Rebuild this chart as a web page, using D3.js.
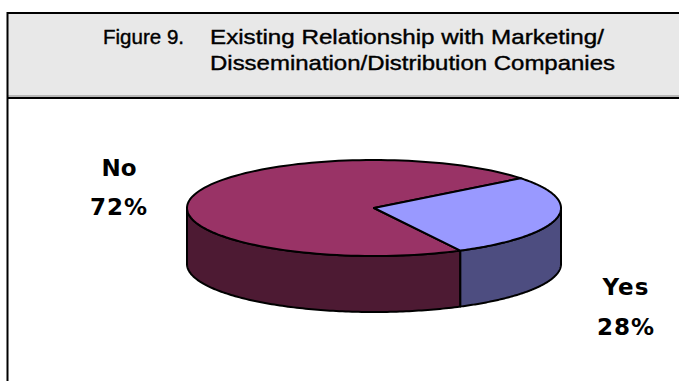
<!DOCTYPE html>
<html><head><meta charset="utf-8">
<script src="https://cdn.jsdelivr.net/npm/d3@7"></script>
<style>html,body{margin:0;padding:0;background:#fff;}svg{display:block;}</style>
</head><body>
<svg id="c" width="679" height="381"></svg>
<script>
const categories = ["No", "Yes"];
const values = [72, 28];
const valueLabels = ["72%", "28%"];
const topColors = ["#993366", "#9999ff"];
const sideColors = ["#4d1a33", "#4d4d80"];
const titleLine1a = "Figure 9.";
const titleLine1b = "Existing Relationship with Marketing/";
const titleLine2 = "Dissemination/Distribution Companies";

const svg = d3.select("#c");

// title box
svg.append("rect").attr("x", 8).attr("y", 13).attr("width", 700).attr("height", 84)
  .attr("fill", "#e8e8e8");
svg.append("line").attr("x1", 7).attr("x2", 679).attr("y1", 13).attr("y2", 13)
  .attr("stroke", "#000").attr("stroke-width", 2);
svg.append("line").attr("x1", 7).attr("x2", 679).attr("y1", 96).attr("y2", 96)
  .attr("stroke", "#888").attr("stroke-width", 1);
svg.append("line").attr("x1", 7).attr("x2", 679).attr("y1", 98).attr("y2", 98)
  .attr("stroke", "#000").attr("stroke-width", 2);
svg.append("line").attr("x1", 7.5).attr("x2", 7.5).attr("y1", 12).attr("y2", 381)
  .attr("stroke", "#000").attr("stroke-width", 2);

const tf = "'Liberation Sans', Arial, sans-serif";
function tText(str, x, y, w) {
  const t = svg.append("text").attr("x", x).attr("y", y)
    .attr("font-family", tf).attr("font-size", 21).attr("fill", "#000")
    .attr("stroke", "#000").attr("stroke-width", 0.4).text(str);
  if (w) t.attr("textLength", w).attr("lengthAdjust", "spacingAndGlyphs");
  return t;
}
tText(titleLine1a, 103, 44, 81);
tText(titleLine1b, 210, 44, 394);
tText(titleLine2, 210, 70, 405);

// 3D pie
const cx = 374, cy = 208, rx = 187, ry = 48, depth = 56;
const pie = d3.pie().sort(null).value(d => d)
  .startAngle(152.5 * Math.PI / 180).endAngle(152.5 * Math.PI / 180 + 2 * Math.PI);
const arcs = pie(values);
const toT = a => a - Math.PI / 2;
const ex = t => cx + rx * Math.cos(t);
const ey = t => cy + ry * Math.sin(t);

const N = 120;
const g = svg.append("g");
// side walls
arcs.forEach((a, i) => {
  const t0 = toT(a.startAngle), t1 = toT(a.endAngle);
  for (let k = -2; k <= 2; k++) {
    const s = Math.max(t0 + 2 * Math.PI * k, 0), e = Math.min(t1 + 2 * Math.PI * k, Math.PI);
    if (e <= s) continue;
    const p = d3.path();
    for (let j = 0; j <= N; j++) {
      const t = s + (e - s) * j / N;
      j === 0 ? p.moveTo(ex(t), ey(t)) : p.lineTo(ex(t), ey(t));
    }
    for (let j = N; j >= 0; j--) {
      const t = s + (e - s) * j / N;
      p.lineTo(ex(t), ey(t) + depth);
    }
    p.closePath();
    g.append("path").attr("d", p.toString()).attr("fill", sideColors[i])
      .attr("stroke", "#000").attr("stroke-width", 2).attr("stroke-linejoin", "round");
  }
});

// top faces
arcs.forEach((a, i) => {
  const t0 = toT(a.startAngle), t1 = toT(a.endAngle);
  const p = d3.path();
  p.moveTo(cx, cy);
  for (let j = 0; j <= N; j++) {
    const t = t0 + (t1 - t0) * j / N;
    p.lineTo(ex(t), ey(t));
  }
  p.closePath();
  g.append("path").attr("d", p.toString()).attr("fill", topColors[i])
    .attr("stroke", "#000").attr("stroke-width", 2).attr("stroke-linejoin", "round");
});

// labels
const lf = "'DejaVu Sans', sans-serif";
const labelPos = [[119, 176, 215], [626, 295, 335]];
const labelSpacing = [0, 1];
categories.forEach((c, i) => {
  const [x, y1, y2] = labelPos[i];
  svg.append("text").attr("x", x).attr("y", y1).attr("text-anchor", "middle")
    .attr("font-family", lf).attr("font-weight", "bold").attr("font-size", 23)
    .attr("letter-spacing", labelSpacing[i]).text(c);
  svg.append("text").attr("x", x).attr("y", y2).attr("text-anchor", "middle")
    .attr("font-family", lf).attr("font-weight", "bold").attr("font-size", 23)
    .attr("letter-spacing", 1).text(valueLabels[i]);
});
</script>
</body></html>
